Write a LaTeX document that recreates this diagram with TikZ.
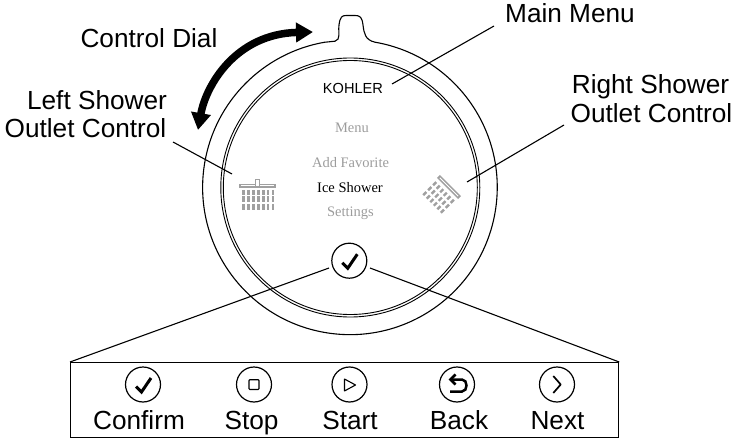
\documentclass[tikz,border=0pt]{standalone}
\usepackage{fontspec}
\setmainfont{Liberation Sans}
\newfontfamily\serifish{Liberation Serif}
\usetikzlibrary{arrows.meta,calc}
\definecolor{menugray}{HTML}{9C9C9C}
\definecolor{icongray}{HTML}{A0A0A0}
\tikzset{
  x=1pt,y=-1pt,
  lbl/.style={font=\fontsize{26.2}{31}\selectfont,inner sep=0pt,anchor=base,text=black},
  menu/.style={font=\serifish\fontsize{14.5}{16}\selectfont,inner sep=0pt,anchor=base,text=menugray},
  lead/.style={draw=black,line width=1.1pt},
  ring/.style={draw=black,line width=1.1pt},
  btn/.style={circle,draw=black,line width=1.2pt,minimum size=35pt,inner sep=0pt},
  panel/.style={rectangle,draw=black,line width=1.2pt,inner sep=0pt,minimum width=548pt,minimum height=75pt},
  thin glyph/.style={draw=black,line width=1.1pt,line join=round},
  bolt/.style={draw=black,line width=3pt,line join=miter},
  spray/.style={draw=icongray,line width=2.8pt},
  spraydiag/.style={draw=icongray,line width=2.4pt},
}
\newcommand{\chk}[1]{\draw[bolt] ($(#1)+(-7,2)$) -- ($(#1)+(-1.5,7.5)$) -- ($(#1)+(8,-6.5)$);}
\begin{document}
\begin{tikzpicture}
\useasboundingbox (0,0) rectangle (735,438);
% dial
\coordinate (c) at (350.3,187.5);
\draw[ring] (335,41.2) .. controls (341,39.5) and (338,33) .. (339,25) .. controls (340,17) and (342,15.5) .. (346,15.5) -- (355,15.5) .. controls (360,15.5) and (362,17) .. (363,25) .. controls (364,33) and (365,40) .. (375,42.2)
 arc[start angle=-80.2,end angle=260,radius=147.3] -- cycle;
\draw[ring,line width=0.9pt] (c) circle[radius=129.5];
\draw[ring,line width=0.9pt] (c) circle[radius=127];
% rotation arrow
\draw[line width=7.5pt,{Triangle[length=17pt,width=19pt]}-{Triangle[length=17pt,width=19pt]}] (198,130) .. controls (206,85) and (236,34) .. (313,32);
% labels
\node[lbl] (dial) at (149,47.3) {Control Dial};
\node[lbl] (ls1) at (97,109.3) {Left Shower};
\node[lbl] (ls2) at (85.5,138) {Outlet Control};
\node[lbl] (mm) at (570,22.7) {Main Menu};
\node[lbl] (rs1) at (650.5,94) {Right Shower};
\node[lbl] (rs2) at (651.5,122.7) {Outlet Control};
% menu
\node[inner sep=0pt,anchor=base,font=\fontsize{14.6}{16}\selectfont] (kohler) at (353,94) {KOHLER};
\node[menu] (m1) at (352,133) {Menu};
\node[menu] (m2) at (350.5,168) {Add Favorite};
\node[menu,text=black] (m3) at (350,193) {Ice Shower};
\node[menu] (m4) at (350.5,217) {Settings};
% left shower icon
\draw[icongray,line width=4pt] (239,186) -- (276,186);
\draw[white,line width=0.9pt] (241,185.6) -- (274,185.6);
\draw[icongray,line width=1pt,fill=white] (255.5,186) -- (255.5,179.5) -- (259.5,179.5) -- (259.5,186);
\foreach \i in {0,...,6}{
  \draw[spray] ({243.5+4.9*\i},190) -- ++(0,5);
  \draw[spray] ({243.5+4.9*\i},196.5) -- ++(0,5.5);
  \draw[spray] ({243.5+4.9*\i},204) -- ++(0,6);
}
% right shower icon
\begin{scope}[shift={(449,187)},x={(0.707pt,-0.707pt)},y={(-0.707pt,-0.707pt)}]
  \draw[icongray,line width=4pt] (-15,0) -- (15,0);
  \draw[white,line width=1pt] (-13,0) -- (13,0);
  \foreach \i in {0,...,5}{
    \draw[spraydiag] ({-12.5+5*\i},5.5) -- ++(0,4.5);
    \draw[spraydiag] ({-12.5+5*\i},12.5) -- ++(0,4.5);
    \draw[spraydiag] ({-12.5+5*\i},19.5) -- ++(0,4.5);
  }
\end{scope}
% confirm button on dial
\node[btn] (ok) at (349.3,260.7) {};
\chk{ok}
% panel
\node[panel,anchor=north west] (box) at (70,362) {};
\node[btn] (b1) at (143,384.5) {};
\node[btn] (b2) at (254,384.5) {};
\node[btn] (b3) at (349.5,384.5) {};
\node[btn] (b4) at (457,384.5) {};
\node[btn] (b5) at (557,384.5) {};
\chk{b1}
\draw[thin glyph,rounded corners=0.8pt] ($(b2)+(-5,-4.8)$) rectangle ($(b2)+(5,5)$);
\draw[thin glyph] ($(b3)+(-5,-5.5)$) -- ($(b3)+(6,0.5)$) -- ($(b3)+(-5,6.5)$) -- cycle;
\draw[draw=black,line width=2.5pt,line join=miter] ($(b4)+(-1.5,-10)$) -- ($(b4)+(-6.5,-5)$) -- ($(b4)+(-1.5,0)$);
\draw[draw=black,line width=2.5pt] ($(b4)+(-6.5,-5)$) -- ($(b4)+(5,-5)$) .. controls ($(b4)+(11,-5)$) and ($(b4)+(11,7)$) .. ($(b4)+(5,7)$) -- ($(b4)+(-7,7)$);
\draw[draw=black,line width=1.7pt,line join=round] ($(b5)+(-3.7,-8.5)$) -- ($(b5)+(3.7,0)$) -- ($(b5)+(-3.7,8.5)$);
\node[lbl] (t1) at (139,429) {Confirm};
\node[lbl] (t2) at (251.5,429) {Stop};
\node[lbl] (t3) at (350,429) {Start};
\node[lbl] (t4) at (459,429) {Back};
\node[lbl] (t5) at (557.5,429) {Next};
% leaders
\coordinate (a1) at (392,84); \coordinate (a2) at (494,26);
\draw[lead] (a1) -- (a2);
\coordinate (a3) at (232,174); \coordinate (a4) at (173,142);
\draw[lead] (a3) -- (a4);
\coordinate (a5) at (467,182); \coordinate (a6) at (564,125);
\draw[lead] (a5) -- (a6);
\coordinate (a7) at (329,268); \coordinate (a8) at (370,268);
\draw[lead] (a7) -- (box.north west);
\draw[lead] (a8) -- (box.north east);
\end{tikzpicture}
\end{document}
